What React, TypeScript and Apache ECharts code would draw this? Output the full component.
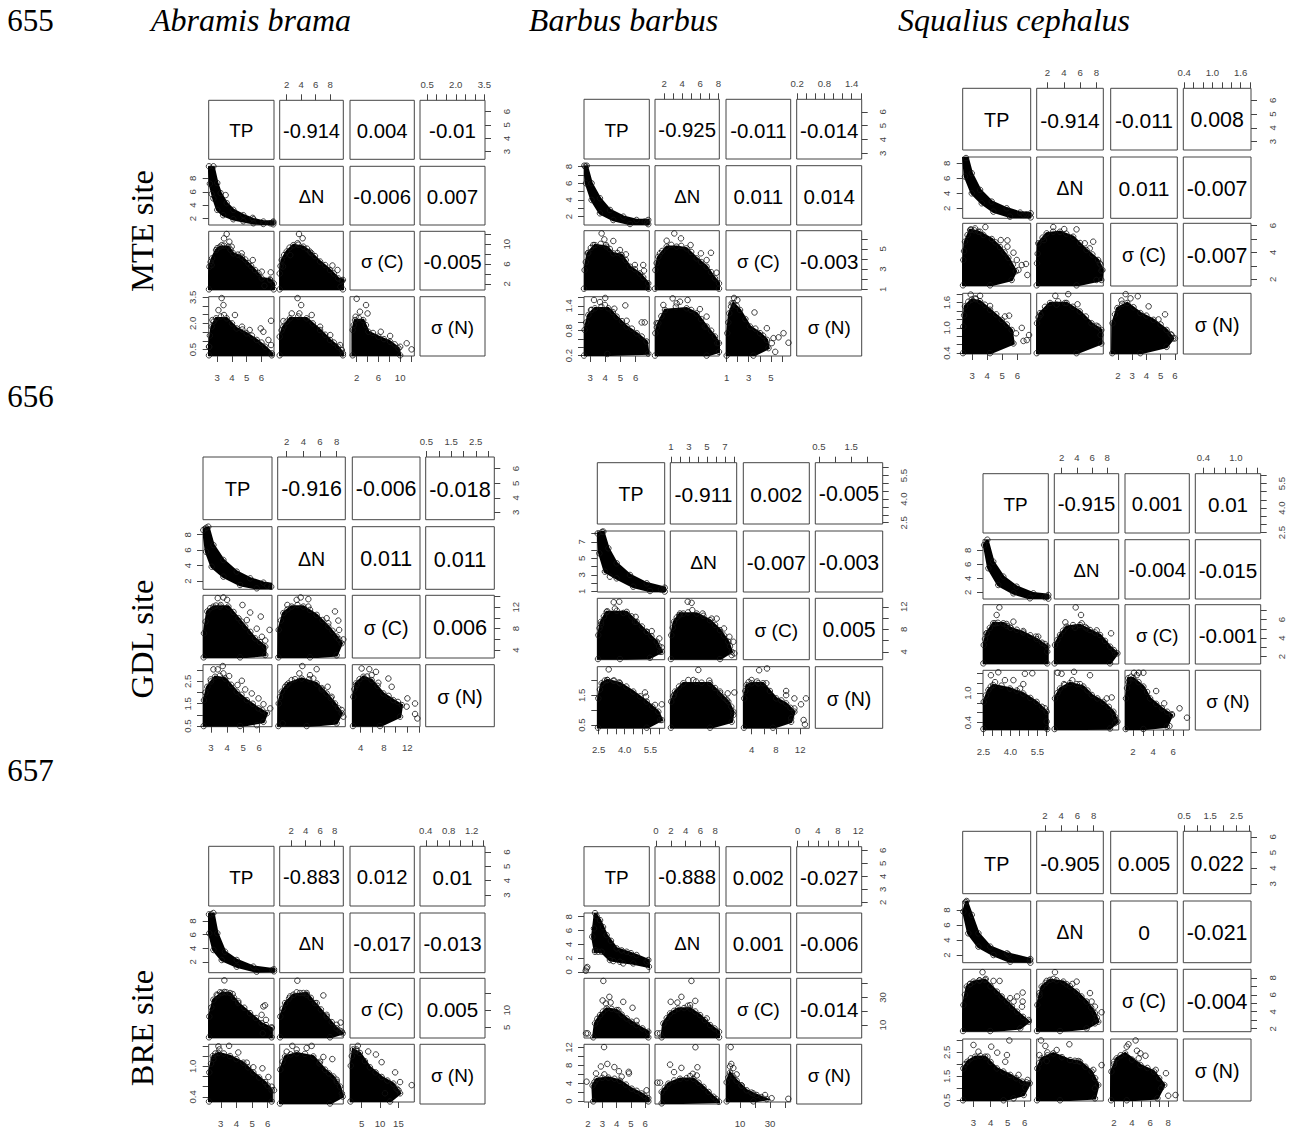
import React, { useEffect, useRef } from "react";
import * as echarts from "echarts";

type P = number[];
const diagLabels = ["TP", "ΔN", "σ (C)", "σ (N)"];
const speciesTitles = ["Abramis brama", "Barbus barbus", "Squalius cephalus"];
const lineNumbers = ["655", "656", "657"];
const siteLabels = ["MTE site", "GDL site", "BRE site"];

// Panel order in blobs, dots and edges: ΔN~TP, σC~TP, σC~ΔN, σN~TP, σN~ΔN, σN~σC
const mteAbramisRanges = [[2.42, 6.85], [1.04, 9.8], [0.77, 12.6], [0.13, 3.53]];
const mteAbramisTicks = [[3, 4, 5, 6], [2, 4, 6, 8], [2, 4, 6, 8, 10, 12], [0.5, 1, 1.5, 2, 2.5, 3, 3.5]];
const mteAbramisLabels = [[3, 4, 5, 6], [2, 4, 6, 8], [2, 6, 10], [0.5, 2, 3.5]];
const mteAbramisCorr = ["-0.914", "0.004", "-0.01", "-0.006", "0.007", "-0.005"];
const mteAbramisBlobs: P[][] = [
  [[2.74,9.8],[3,7.3],[3.23,5.8],[3.64,4.3],[4.09,3.3],[4.77,2.5],[5.45,1.9],[6.13,1.55],[6.8,1.55],[6.8,1.15],[6.13,1.2],[5.45,1.3],[4.77,1.6],[4.09,1.9],[3.4,2.5],[3,3.3],[2.74,5],[2.5,7.2],[2.44,9.8]],
  [[2.44,.9],[2.47,5.47],[2.65,7.15],[2.92,8.82],[3.19,9.5],[3.75,9.5],[4.09,8.15],[4.66,7.48],[5.11,6.14],[5.56,4.8],[6.02,3.12],[6.58,2.9],[6.83,2.1],[6.83,.9]],
  [[1.04,.9],[1.04,4.1],[1.32,6.8],[2,8.5],[2.92,9.8],[4.3,9.5],[5.2,8.5],[6.6,6.5],[7.97,4.8],[9.1,3.1],[9.75,2.8],[9.75,.9]],
  [[2.44,.17],[2.44,.66],[2.62,1.81],[2.92,2.29],[3.64,2.29],[4.32,1.71],[5,1.43],[5.68,1.05],[6.25,.66],[6.7,.28],[6.7,.17]],
  [[1.04,.17],[1.04,1.24],[1.54,1.81],[2.46,2.29],[4.75,2.29],[6.6,1.62],[7.97,1.05],[9.1,.66],[9.75,.28],[9.75,.17]],
  [[1.26,.17],[1.26,1.62],[1.69,2.19],[3.2,2.19],[4.15,1.52],[6,1.24],[8.15,.95],[9.7,.57],[10,.17]],
];
const mteAbramisDots: P[][] = [
  [[2.62,5.67],[3.57,5.5],[6.8,1.4],[6.6,1.3],[5.4,2.1]],
  [[3.64,12.05],[3.46,11.17],[3.82,10.5],[3.3,9.8],[3.98,9.5],[2.62,5.8],[4.66,8.15],[5.41,6.8],[6.02,4.46],[6.63,4.33],[6.58,2.78],[6.2,1.6]],
  [[3.7,12.05],[4.2,11.2],[3.5,10.2],[9,4.8],[8.3,5.7],[9.6,2.6],[9.4,1.4],[2.5,7.8],[5.4,8.2],[1.5,5.5]],
  [[3.3,3.45],[3.42,3.05],[3.08,2.76],[3.46,2.48],[4.2,2.48],[2.67,2.19],[6.65,2.15],[5.95,1.71],[6.13,1.52],[4.68,1.81],[6.47,1.05],[6.65,.76],[5.2,1.62],[2.46,.66]],
  [[3.5,3.45],[4,3.05],[3.75,2.57],[1.54,2.13],[5.45,2.48],[6.6,1.81],[8,1.33],[9.35,.76],[9.6,.47],[2.7,2.57]],
  [[2,3.41],[3.72,3.05],[2.6,2.67],[4,2.57],[1.8,2.38],[6.43,1.52],[8.15,1.28],[11.2,.86],[12.1,.51],[10,.66]],
];
const mteAbramisEdges: P[][] = [
  [],
  [[2.55,6.4],[3,9.2],[3.45,9.7],[3.9,8.9],[4.4,7.9],[4.9,6.9],[5.3,5.6],[5.8,4.2]],
  [[1.15,5.6],[1.65,7.8],[2.4,9.3],[3.6,9.9],[4.8,9.1],[5.9,7.6],[7.3,5.8],[8.5,4.1]],
  [[2.5,1.3],[2.75,2.1],[3.25,2.4],[4,2],[4.7,1.65],[5.35,1.3],[6,.9]],
  [[1.3,1.6],[2,2.1],[3.6,2.4],[5.6,2],[7.3,1.35],[8.5,.9]],
  [[1.45,1.9],[2.4,2.3],[3.7,1.9],[5,1.45],[7,1.1],[9,.8]],
];

const mteBarbusRanges = [[2.6, 6.9], [1, 8.1], [0.94, 6.8], [0.19, 1.62]];
const mteBarbusTicks = [[3, 4, 5, 6], [2, 3, 4, 5, 6, 7, 8], [1, 2, 3, 4, 5, 6], [0.2, 0.4, 0.6, 0.8, 1, 1.2, 1.4, 1.6]];
const mteBarbusLabels = [[3, 4, 5, 6], [2, 4, 6, 8], [1, 3, 5], [0.2, 0.8, 1.4]];
const mteBarbusCorr = ["-0.925", "-0.011", "-0.014", "0.011", "0.014", "-0.003"];
const mteBarbusBlobs: P[][] = [
  [[2.78,8.1],[3.1,6],[3.65,4.2],[4.31,2.8],[5.19,2],[6.06,1.6],[6.83,1.6],[6.83,1.1],[5.63,1.12],[4.53,1.6],[3.65,2.4],[3.1,4],[2.73,6],[2.62,8.1]],
  [[2.6,1.07],[2.64,2.91],[2.84,4.56],[3.32,5.38],[4.09,5.22],[4.53,4.56],[5.08,4.4],[5.63,3.24],[6.28,2.58],[6.83,1.6],[6.85,1.07]],
  [[1,1.07],[1.04,2.91],[1.37,4.22],[2.29,5.22],[3.39,5.22],[4.49,5.05],[5.6,4.07],[6.7,3.24],[7.62,2.09],[8.06,1.6],[8.06,1.07]],
  [[2.6,.2],[2.64,.82],[2.89,1.18],[3.32,1.34],[4.2,1.34],[4.75,1.14],[5.41,.9],[6.07,.74],[6.72,.54],[6.83,.25]],
  [[1,.2],[1.04,.74],[1.37,.98],[2.1,1.3],[4.49,1.34],[5.6,1.22],[6.7,.9],[7.62,.66],[8.06,.5],[8.06,.29],[6.7,.2]],
  [[1,.2],[1.06,.74],[1.24,1.22],[1.6,1.46],[2.21,1.3],[3.12,.9],[4.03,.74],[4.64,.58],[4.79,.38],[3.42,.2]],
];
const mteBarbusDots: P[][] = [
  [[6.75,1.3],[6.6,1.4],[2.7,8]],
  [[3.76,6.53],[3.94,5.94],[4.53,5.78],[4.05,5.38],[3.21,5.38],[2.88,4.62],[4.97,4.89],[5.36,4.46],[6.5,3.41],[6.55,2.85],[5.95,3.41]],
  [[3.13,6.53],[3.87,6.04],[2.29,5.81],[4.93,5.38],[7.18,4.62],[7.8,2.65],[6.07,4.56],[6.7,3.9],[1.55,4.56]],
  [[4,1.59],[3.26,1.54],[3.65,1.49],[3.06,1.3],[5.32,1.41],[3.98,1.42],[4.6,1.33],[5.41,1.04],[6.4,1],[6.6,1],[4.14,.24]],
  [[2.95,1.58],[1.92,1.42],[3.39,1.46],[4.6,1.54],[3.76,1.5],[5.96,1.32],[1.18,.98],[6.7,1.14],[6.5,.9],[7.88,.5]],
  [[1.67,1.59],[1.97,1.54],[1.46,1.46],[3.52,1.24],[4.64,.86],[6.15,.74],[5.7,.64],[6.6,.51],[5.09,.5],[5.4,.29],[5.24,.62]],
];
const mteBarbusEdges: P[][] = [
  [],
  [[2.72,3.7],[3.05,5.1],[3.7,5.5],[4.3,5],[4.8,4.6],[5.35,3.9],[5.95,3],[6.5,2.2]],
  [[1.18,3.6],[1.8,4.8],[2.8,5.4],[3.9,5.3],[5,4.7],[6.1,3.7],[7.2,2.7]],
  [[2.75,1],[3.1,1.3],[3.75,1.38],[4.5,1.25],[5.1,1.03],[5.75,.85],[6.4,.66]],
  [[1.2,.88],[1.7,1.15],[3.3,1.38],[5,1.3],[6.1,1.08],[7.2,.8]],
  [[1.15,1],[1.4,1.38],[1.9,1.4],[2.7,1.08],[3.6,.85],[4.3,.68]],
];

const mteSqualiusRanges = [[2.38, 6.88], [0.68, 8.84], [1.5, 6.17], [0.38, 1.82]];
const mteSqualiusTicks = [[3, 4, 5, 6], [2, 4, 6, 8], [2, 3, 4, 5, 6], [0.4, 0.6, 0.8, 1, 1.2, 1.4, 1.6, 1.8]];
const mteSqualiusLabels = [[3, 4, 5, 6], [2, 4, 6, 8], [2, 3, 4, 5, 6], [0.4, 1, 1.6]];
const mteSqualiusRightSigmaC = [2, 4, 6];
const mteSqualiusCorr = ["-0.914", "-0.011", "0.008", "0.011", "-0.007", "-0.007"];
const mteSqualiusBlobs: P[][] = [
  [[2.69,8.86],[2.98,6.68],[3.53,4.46],[4.3,2.9],[5.29,2.01],[6.18,1.44],[6.88,1.35],[6.88,.8],[5.51,.9],[4.41,1.57],[3.64,2.68],[2.98,4],[2.53,6.24],[2.42,8.86]],
  [[2.4,1.55],[2.42,3.44],[2.53,4.8],[2.87,5.67],[3.42,5.54],[4.3,5],[4.85,4.4],[5.4,3.6],[5.9,2.6],[5.62,1.95],[4.19,1.55]],
  [[.68,1.55],[.72,3.19],[.88,4.68],[1.9,5.42],[3.53,5.54],[5.15,5.17],[6.78,4.18],[8.2,3.44],[8.73,2.69],[8.6,1.95],[5.56,1.55]],
  [[2.4,.4],[2.42,1.03],[2.53,1.51],[2.98,1.67],[3.53,1.63],[4.19,1.43],[4.96,1.19],[5.62,.95],[5.74,.63],[4.19,.4]],
  [[.68,.4],[.72,1.11],[1.09,1.35],[2.31,1.59],[4.34,1.59],[5.96,1.39],[7.39,1.11],[8.6,.95],[8.6,.63],[5.56,.4]],
  [[1.61,.4],[1.63,1.11],[1.97,1.47],[2.66,1.59],[3.58,1.35],[4.5,1.19],[5.42,.95],[5.88,.75],[5.42,.55],[3.58,.4]],
];
const mteSqualiusDots: P[][] = [
  [[6.8,1.1],[6.6,1.2],[6.4,1.15],[2.6,8.7]],
  [[3.88,5.89],[2.93,5.72],[3.2,5.79],[3.53,5.54],[4.9,4.92],[5.34,4.9],[5.34,4.43],[5.74,3.98],[5.96,3.44],[6.57,3.14],[6.29,3.06],[6.66,2.32],[6.07,2.69]],
  [[2.71,5.89],[4.05,5.74],[5.56,5.72],[1.57,4.92],[6.57,4.68],[7.6,4.8],[7.18,4.3],[8.4,3.19],[8.6,2.64],[8,1.95]],
  [[2.91,1.79],[3.53,1.76],[3.22,1.7],[4.19,1.52],[5.18,1.27],[5.45,1.29],[6.29,1],[6.62,.71],[6.77,.83],[6.4,.69],[5.91,.87]],
  [[2.96,1.76],[4.54,1.8],[4.14,1.59],[5.68,1.56],[3.12,1.55],[8.2,1.03],[8.5,.83],[1.17,1.31]],
  [[2.25,1.65],[2.55,1.8],[3.4,1.75],[2.89,1.7],[4.16,1.51],[5.31,1.32],[4.85,1.2],[5.77,.83],[6,.75]],
];
const mteSqualiusEdges: P[][] = [
  [],
  [[2.47,4.1],[2.7,5.3],[3.15,5.65],[3.75,5.3],[4.55,4.75],[5.15,4],[5.7,3.1]],
  [[.8,3.9],[1.4,5.1],[2.7,5.55],[4.3,5.4],[6,4.7],[7.5,3.85],[8.5,3.1]],
  [[2.47,1.3],[2.75,1.62],[3.25,1.68],[3.85,1.55],[4.6,1.32],[5.3,1.08]],
  [[.9,1.25],[1.7,1.5],[3.3,1.63],[5.1,1.5],[6.7,1.27],[8,1.05]],
  [[1.8,1.32],[2.3,1.57],[3.1,1.49],[4,1.29],[5,1.08],[5.7,.85]],
];

const gdlAbramisRanges = [[2.5, 6.8], [0.92, 9.04], [2.55, 14.2], [0.47, 3.25]];
const gdlAbramisTicks = [[3, 4, 5, 6], [2, 4, 6, 8], [4, 6, 8, 10, 12, 14], [0.5, 1, 1.5, 2, 2.5, 3]];
const gdlAbramisLabels = [[3, 4, 5, 6], [2, 4, 6, 8], [4, 8, 12], [0.5, 1.5, 2.5]];
const gdlAbramisCorr = ["-0.916", "-0.006", "-0.018", "0.011", "0.011", "0.006"];
const gdlAbramisBlobs: P[][] = [
  [[2.83,9.04],[3.15,6.66],[3.77,4.72],[4.6,3.21],[5.44,2.34],[6.27,1.78],[6.81,1.61],[6.81,1.05],[5.85,1.05],[4.81,1.48],[3.77,2.56],[3.04,3.85],[2.69,5.79],[2.52,8.6]],
  [[2.54,2.67],[2.56,7.15],[2.77,11.2],[3.15,12.1],[4.08,12.1],[4.71,9.94],[5.13,8.39],[5.75,6.2],[6.38,4.66],[6.38,3.1],[4.81,2.67]],
  [[1,2.67],[1.04,7.77],[1.6,10.9],[2.6,12.1],[4,12.1],[5.6,10.56],[7,8.39],[8,6.53],[8.6,5.28],[8,3.05],[4.8,2.67]],
  [[2.54,.5],[2.56,1.66],[2.77,2.26],[3.25,2.71],[3.88,2.63],[4.6,2.04],[5.23,1.66],[5.96,1.29],[6.48,1.07],[6.27,.69],[4.81,.5]],
  [[1,.5],[1.04,1.51],[1.4,2.04],[2.2,2.41],[3.8,2.63],[5.6,2.41],[6.8,1.96],[7.8,1.51],[8.6,1.07],[8,.62],[4.4,.5]],
  [[2.66,.5],[2.72,1.81],[3.18,2.41],[4.45,2.71],[5.88,2.56],[7.9,1.96],[9.62,1.66],[11.06,1.44],[10.77,.92],[7.32,.5]],
];
const gdlAbramisDots: P[][] = [
  [[6.75,1.25],[6.5,1.4],[2.7,8.9]],
  [[3.42,13.67],[3.77,13.8],[4,13.36],[3.56,12.1],[3.31,12.3],[4.96,12.4],[5.44,11],[6.1,10.25],[5.23,9.6],[5.85,8],[6.65,7.77],[6.17,6.5],[6.38,5.8]],
  [[3.2,13.36],[3.68,13.8],[4.6,13.48],[2.08,12.4],[4.6,12.1],[7.8,11.2],[6.8,9.94],[8.2,9.5],[8.3,7.77],[8.8,6],[7,9]],
  [[3.15,3.04],[3.42,3.04],[3.73,3.19],[3.77,2.86],[4.13,2.74],[4.92,2.53],[4.65,2.34],[5.13,2.14],[5.54,1.96],[5.96,1.74],[6.27,1.48],[6.69,1.29],[2.98,2.59],[5.85,.54]],
  [[3.88,3.19],[5.6,3.05],[3.52,2.86],[4.8,2.78],[5.2,2.63],[2.6,2.56],[6.92,2.26],[6.2,2.14],[7.4,1.81],[8.6,1.22],[8.8,.92],[1.52,.62],[2,2.34]],
  [[4.16,3.08],[5.48,3.05],[6.63,2.93],[5.88,2.78],[3.3,2.34],[7.03,2.44],[8.76,2.63],[9.33,2.26],[12.03,1.74],[13.35,1.51],[13.35,1.04],[13.75,.84],[11.9,1.37]],
];
const gdlAbramisEdges: P[][] = [
  [],
  [[2.66,9.3],[2.95,11.8],[3.6,12.4],[4.4,11.1],[4.9,9.3],[5.45,7.4],[6.05,5.5]],
  [[1.3,9.5],[2.1,11.6],[3.3,12.4],[4.8,11.5],[6.3,9.6],[7.5,7.6],[8.3,6]],
  [[2.65,2],[3,2.5],[3.55,2.75],[4.25,2.35],[4.9,1.9],[5.6,1.5],[6.2,1.2]],
  [[1.2,1.8],[1.8,2.25],[3,2.6],[4.7,2.6],[6.2,2.2],[7.3,1.75],[8.2,1.3]],
  [[2.9,2.15],[3.8,2.6],[5.1,2.72],[6.9,2.3],[8.8,1.85],[10.4,1.58]],
];

const gdlBarbusRanges = [[2.42, 6.32], [0.93, 8.3], [2.62, 13.5], [0.39, 2.47]];
const gdlBarbusTicks = [[2.5, 3, 3.5, 4, 4.5, 5, 5.5, 6], [1, 2, 3, 4, 5, 6, 7, 8], [4, 6, 8, 10, 12], [0.5, 1, 1.5, 2]];
const gdlBarbusLabels = [[2.5, 4, 5.5], [1, 3, 5, 7], [4, 8, 12], [0.5, 1.5]];
const gdlBarbusCorr = ["-0.911", "0.002", "-0.005", "-0.007", "-0.003", "0.005"];
const gdlBarbusBlobs: P[][] = [
  [[2.77,8.23],[3.06,6.21],[3.54,4.4],[4.31,2.99],[5.28,1.98],[6.32,1.45],[6.32,.98],[5.47,1.05],[4.5,1.57],[3.54,2.58],[2.86,3.39],[2.54,5.6],[2.44,8]],
  [[2.46,2.74],[2.48,6.97],[2.63,9.33],[2.96,11.09],[4.12,11.09],[4.7,9.33],[5.28,7.56],[5.86,5.8],[6.15,4.03],[5.47,2.97],[3.73,2.74]],
  [[1,2.74],[1.04,6.97],[1.34,9.33],[2,10.8],[3.86,10.8],[5.34,9.62],[6.45,7.85],[7.37,5.8],[7.74,4.03],[6.45,2.74]],
  [[2.46,.41],[2.48,1.4],[2.67,1.91],[3,2.02],[3.73,1.91],[4.5,1.63],[5.28,1.29],[5.95,.95],[6.15,.67],[5.28,.41]],
  [[1,.41],[1.04,1.29],[1.45,1.63],[2.37,1.91],[5.34,1.91],[6.45,1.57],[7.37,1.29],[7.93,.95],[7.74,.61],[5.34,.41]],
  [[2.73,.41],[2.78,1.4],[3.16,1.85],[3.98,1.91],[5.88,1.91],[8.05,1.4],[9.68,1.23],[11.04,.95],[10.5,.61],[7.51,.41]],
];
const gdlBarbusDots: P[][] = [
  [[3.15,2.78],[6.25,1.2],[6.1,1.25],[2.7,8.2]],
  [[3.37,12.8],[3.69,12.9],[3.44,11.68],[3,11.2],[3.93,10.9],[4.64,10.2],[4.6,9.33],[5.28,7.56],[5.57,7.68],[6.01,6.38],[6.15,4.8],[6.05,4.03],[2.63,8.86]],
  [[2.86,12.9],[3.3,12.7],[3.37,11.4],[2.37,10.8],[4.52,10.8],[5.52,9.9],[6.08,9.9],[6.89,8.15],[7.49,6.68],[7.93,5.8],[8.04,3.74],[7.74,3.44],[1.93,10.5]],
  [[3.08,2.38],[3,2.02],[3.4,2],[3.69,1.94],[5.18,1.6],[5.24,1.46],[6.15,1.2],[5.76,1.18],[6.05,.67]],
  [[4.04,2.36],[2.93,2.02],[3.49,2.02],[4.41,1.93],[5.26,2],[1.34,1.51],[6.45,1.63],[7.3,1.57],[8.04,1.6],[7.19,1.35],[7.93,.84]],
  [[6.53,2.41],[5.23,2.35],[3.98,2.02],[5.07,1.91],[6.42,1.91],[9.68,1.65],[9.68,1.51],[11.04,1.4],[12.95,1.4],[12.13,1.2],[11.04,1.06],[12.56,.67],[12.78,.52],[10.5,.73]],
];
const gdlBarbusEdges: P[][] = [
  [],
  [[2.55,8.2],[2.8,10.3],[3.55,11.3],[4.4,10.3],[5,8.5],[5.55,6.8],[6,5]],
  [[1.2,8.3],[1.65,10.1],[2.9,11],[4.6,10.4],[5.9,8.8],[6.9,6.9],[7.55,5]],
  [[2.57,1.7],[2.85,2],[3.35,2],[4.1,1.8],[4.9,1.47],[5.6,1.12]],
  [[1.25,1.47],[1.9,1.8],[3.8,1.97],[5.9,1.75],[6.9,1.43],[7.7,1.12]],
  [[2.95,1.65],[3.5,1.95],[4.9,1.97],[7,1.65],[8.9,1.33],[10.4,1.08]],
];

const gdlSqualiusRanges = [[2.47, 6.1], [1.04, 9.5], [1.2, 7.6], [0.25, 1.46]];
const gdlSqualiusTicks = [[2.5, 3, 3.5, 4, 4.5, 5, 5.5, 6], [2, 4, 6, 8], [2, 3, 4, 5, 6, 7], [0.4, 0.6, 0.8, 1, 1.2, 1.4]];
const gdlSqualiusLabels = [[2.5, 4, 5.5], [2, 4, 6, 8], [2, 4, 6], [0.4, 1]];
const gdlSqualiusCorr = ["-0.915", "0.001", "0.01", "-0.004", "-0.015", "-0.001"];
const gdlSqualiusBlobs: P[][] = [
  [[2.71,9.5],[3.04,6.37],[3.6,4.23],[4.34,2.8],[5.27,1.85],[6.1,1.61],[6.1,1.1],[5.08,1.14],[4.16,1.85],[3.32,3.04],[2.77,5.42],[2.53,8.75]],
  [[2.49,1.27],[2.51,3.25],[2.67,4.51],[3.04,5.59],[3.6,5.59],[4,5.1],[4.71,4.6],[5.45,3.9],[6.04,3.1],[6.04,1.27]],
  [[1.08,1.27],[1.13,3.25],[1.79,4.33],[2.66,5.23],[4.42,5.41],[5.73,4.87],[7.05,4.33],[8.36,3.07],[9.33,2.35],[8.36,1.27]],
  [[2.49,.27],[2.51,.82],[2.77,1.06],[3.04,1.16],[3.97,1.09],[4.71,.99],[5.45,.82],[6.01,.62],[6.04,.27]],
  [[1.08,.27],[1.13,.89],[1.79,1.09],[3.1,1.2],[4.86,1.13],[5.96,.96],[7.49,.82],[8.8,.62],[9.33,.42],[8.36,.28]],
  [[1.27,.27],[1.3,.89],[1.53,1.3],[2.03,1.3],[3.03,1.13],[3.7,.89],[4.87,.69],[5.87,.55],[5.37,.32],[3.03,.27]],
];
const gdlSqualiusDots: P[][] = [
  [[6.05,1.35],[5.9,1.3]],
  [[3.38,7.31],[3.23,6.49],[3.14,5.59],[3.78,5.52],[4.16,5.77],[4,5.12],[2.67,4.51],[4.71,4.76],[5.41,4.15],[5.54,4.15],[5.91,3.36],[6.04,2.53]],
  [[3.85,7.31],[4.55,6.49],[2.49,5.7],[3.76,5.12],[4.64,5.59],[5.29,5.05],[8.5,4.51],[6.61,4.83],[9.02,2.35]],
  [[2.91,1.36],[3.32,1.42],[4.8,1.39],[5.21,1.4],[3.69,1.26],[4.16,1.26],[3.14,1.22],[4.71,1.18],[4.53,1.09],[5.91,.69],[6.01,.42]],
  [[1.48,1.41],[2,1.39],[3.63,1.43],[5.73,1.36],[3.41,1.26],[2.31,1.18],[4.42,1.18],[8.58,.91],[7.93,.89],[9.02,.52],[9.02,.39]],
  [[2.1,1.41],[2.57,1.41],[3.03,1.41],[1.53,1.22],[2.37,1.36],[4.3,1.04],[5.1,.79],[6.63,.69],[7.37,.5],[5.63,.33],[5.87,.57]],
];
const gdlSqualiusEdges: P[][] = [
  [],
  [[2.58,3.9],[2.85,5.1],[3.3,5.65],[3.8,5.3],[4.35,4.9],[5.1,4.3],[5.75,3.5]],
  [[1.45,3.8],[2.2,4.8],[3.5,5.4],[5.1,5.2],[6.4,4.6],[7.7,3.7],[8.85,2.7]],
  [[2.63,.95],[2.9,1.13],[3.5,1.15],[4.35,1.05],[5.1,.9],[5.75,.72]],
  [[1.45,1],[2.4,1.16],[4,1.18],[5.4,1.05],[6.7,.89],[8.2,.72]],
  [[1.4,1.1],[1.8,1.33],[2.55,1.22],[3.4,1.02],[4.3,.78],[5.4,.62]],
];

const breAbramisRanges = [[2.23, 6.4], [0.4, 9.2], [1.86, 19.3], [0.3, 1.43]];
const breAbramisTicks = [[3, 4, 5, 6], [2, 4, 6, 8], [5, 10, 15], [0.4, 0.6, 0.8, 1, 1.2, 1.4]];
const breAbramisLabels = [[3, 4, 5, 6], [2, 4, 6, 8], [5, 10, 15], [0.4, 0.8, 1.2]];
const breAbramisRightSigmaC = [5, 10];
const breAbramisLeftSigmaN = [0.4, 1];
const breAbramisCorr = ["-0.883", "0.012", "0.01", "-0.017", "-0.013", "0.005"];
const breAbramisBlobs: P[][] = [
  [[2.53,9.2],[2.78,6.21],[3.27,3.5],[4.02,2.27],[5.08,1.29],[6.4,.89],[6.4,.6],[5.29,.55],[4.02,1.29],[3.06,2.27],[2.53,3.75],[2.27,6.21],[2.25,9]],
  [[2.25,2.06],[2.27,8.13],[2.53,13.04],[3.06,15],[3.59,15],[4.12,12.06],[4.87,9.11],[5.61,6.17],[6.25,4.7],[6.25,2.06]],
  [[.45,2.06],[.49,8.13],[1.14,12.06],[2.29,14.5],[4.13,15],[5.28,12.06],[6.9,8.13],[8.28,4.7],[9.11,3.23],[7.36,2.06]],
  [[2.25,.31],[2.27,.88],[2.49,1.2],[2.85,1.26],[3.59,1.2],[4.44,1.07],[5.08,.88],[5.83,.69],[6.25,.53],[6.25,.31]],
  [[.45,.31],[.49,.95],[1.14,1.2],[2.75,1.26],[5.05,1.2],[6.67,.95],[7.82,.82],[8.74,.63],[9.11,.44],[7.36,.31]],
  [[1.98,.31],[2.07,1.01],[2.71,1.33],[4.53,1.26],[7.25,.98],[10.44,.79],[13.62,.66],[15.44,.47],[12.71,.31]],
];
const breAbramisDots: P[][] = [
  [[2.4,9],[6.3,.8]],
  [[3.23,18.7],[2.74,14.5],[2.95,15.2],[3.23,15.3],[3.76,14.7],[4.12,12.55],[5.72,11.08],[5.83,11.4],[5.61,8.62],[5.89,7.15],[6.25,5],[5.68,3.23]],
  [[2.84,18.6],[2.75,15.2],[3.67,15],[4.13,14.5],[6.44,14.3],[1.83,14],[5.52,12.06],[6.9,8.62],[8.83,6.37],[9,3.72],[8.28,5.7]],
  [[2.85,1.39],[2.91,1.33],[3.53,1.4],[4.12,1.27],[2.53,1.14],[4.66,1.07],[5.08,.98],[5.66,.96],[6.04,.79],[6.25,.6],[6.4,.53]],
  [[2.15,1.4],[4.13,1.36],[4.82,1.4],[1.37,1.29],[6.44,1.19],[7.68,1.15],[2.75,1.33],[5.98,1.1],[8.28,.76],[9,.5]],
  [[3.98,1.4],[3.62,1.33],[6.8,1.29],[8.89,1.23],[10.44,1.08],[14.1,.88],[18.6,.63],[15,.53],[11.35,.47],[15.44,.69]],
];
const breAbramisEdges: P[][] = [
  [],
  [[2.4,10.8],[2.8,14.3],[3.35,15.2],[3.85,13.6],[4.5,10.7],[5.25,7.7],[5.9,5.6]],
  [[.8,10.4],[1.7,13.4],[3.2,15],[4.7,13.6],[6.1,10.2],[7.6,6.5],[8.7,4]],
  [[2.38,1.05],[2.65,1.25],[3.2,1.25],[4,1.14],[4.75,.98],[5.45,.78],[6,.62]],
  [[.8,1.1],[1.9,1.24],[3.9,1.25],[5.9,1.07],[7.2,.88],[8.3,.72]],
  [[2.35,1.2],[3.6,1.3],[5.9,1.1],[8.8,.88],[12,.72],[14.5,.56]],
];

const breBarbusRanges = [[1.72, 6.28], [-0.13, 8.54], [0.67, 43.8], [-0.2, 12.7]];
const breBarbusTicks = [[2, 3, 4, 5, 6], [0, 2, 4, 6, 8], [10, 20, 30, 40], [0, 2, 4, 6, 8, 10, 12]];
const breBarbusLabels = [[2, 3, 4, 5, 6], [0, 2, 4, 6, 8], [10, 30], [0, 4, 8, 12]];
const breBarbusCorr = ["-0.888", "0.002", "-0.027", "0.001", "-0.006", "-0.014"];
const breBarbusBlobs: P[][] = [
  [[2.49,8.52],[2.84,7.5],[3.3,5.33],[4,3.4],[4.7,2.91],[5.39,2.43],[6.21,1.71],[6.25,.74],[5.16,1.22],[4.23,1.46],[3.53,1.71],[2.95,2.91],[2.49,2.91],[2.3,5.09]],
  [[2.37,1.15],[2.49,11.2],[2.84,17.2],[3.3,22],[4,20.8],[4.7,14.8],[5.39,10],[6.21,5.2],[6.21,1.15]],
  [[.77,1.15],[1,11.2],[1.9,18.4],[3,22],[4.6,22],[5.95,17.2],[7.3,10],[8.5,5.2],[8.5,1.15]],
  [[2.37,-.06],[2.32,3.49],[2.6,4.9],[3.42,5.26],[4.23,4.55],[5.05,2.78],[5.74,1.71],[6.21,.65],[6.21,-.06]],
  [[.77,-.06],[.77,2.42],[1.67,4.2],[3.25,5.26],[5.05,5.26],[6.4,3.49],[7.75,1.36],[8.5,.3]],
  [[1.1,-.06],[1.1,4.2],[3.34,6.32],[7.78,4.55],[14.45,2.42],[21.1,1.36],[27.8,.44],[18.9,-.06]],
];
const breBarbusDots: P[][] = [
  [[1.9,.5],[1.95,.69],[1.84,.16],[2.42,6.3],[2.49,3.15],[2.72,2.91],[3.77,1.56],[4.46,1.22],[6.09,1.46]],
  [[3.07,41.9],[3.49,30.4],[3.02,27.8],[3.25,25.6],[4.46,26.8],[5.11,22.5],[3.58,26.3],[5.39,13.1],[1.86,4],[1.98,4],[4.12,20.8]],
  [[4.78,41.9],[3.43,30.4],[1.99,26.8],[2.89,26.3],[5.3,27.5],[4.6,24.4],[4.28,23.9],[.19,4],[.55,4],[6.85,14.8]],
  [[3.12,12.07],[3.35,8.31],[2.9,7.74],[3.84,7.6],[4.16,6.68],[4.84,6.54],[4.86,6.18],[4.35,5.47],[2.56,6.18],[1.9,4.34],[3.14,5.97],[6.09,2.42]],
  [[5.32,12.07],[1.9,8.31],[5.59,7.74],[3.43,7.6],[2.44,6.68],[4.6,5.83],[4.96,6.32],[.19,4.41],[.55,4.41],[5.5,5.97]],
  [[3.78,12.07],[4.2,8.31],[5.56,7.39],[3.34,7.74],[7.78,5.97],[11.1,3.49],[18.9,1.71],[26.7,1.36],[31.1,.65],[42.2,.51]],
];
const breBarbusEdges: P[][] = [
  [[2.6,8.1],[3.05,6.5],[3.6,4.5],[4.35,3.1],[5,2.7]],
  [[2.65,14.5],[3.05,19.8],[3.65,21.7],[4.35,17.6],[5.05,12.4],[5.8,7.6]],
  [[1.45,15],[2.45,20.3],[3.8,22.3],[5.3,19.8],[6.6,13.6],[7.9,7.6]],
  [[2.45,4.2],[3,5.2],[3.85,5],[4.65,3.7],[5.4,2.3],[5.95,1.2]],
  [[1.2,3.3],[2.45,4.9],[4.15,5.4],[5.75,4.4],[7.1,2.4],[8.1,.9]],
  [[2.2,5.3],[5.5,5.5],[11,3.5],[17.7,1.9],[24.4,.9]],
];

const breSqualiusRanges = [[2.37, 6.35], [1, 9.2], [1.65, 9], [0.47, 3.06]];
const breSqualiusTicks = [[3, 4, 5, 6], [2, 4, 6, 8], [2, 3, 4, 5, 6, 7, 8], [0.5, 1, 1.5, 2, 2.5, 3]];
const breSqualiusLabels = [[3, 4, 5, 6], [2, 4, 6, 8], [2, 4, 6, 8], [0.5, 1.5, 2.5]];
const breSqualiusCorr = ["-0.905", "0.005", "0.022", "0", "-0.021", "-0.004"];
const breSqualiusBlobs: P[][] = [
  [[2.6,9.2],[2.9,7.36],[3.29,4.9],[3.98,3.13],[4.96,2.24],[6.33,1.49],[6.33,1],[5.15,1.13],[4.17,2.02],[3.29,3.13],[2.7,4.9],[2.41,7.8]],
  [[2.39,1.73],[2.41,4.8],[2.61,6.96],[3,7.55],[3.68,7.75],[4.37,6.37],[4.96,5.2],[5.55,4.01],[6.23,2.83],[5.74,2.04],[3.98,1.73]],
  [[1.04,1.73],[1.08,4.8],[1.61,6.96],[2.64,7.75],[4.28,7.55],[5.92,6.37],[7.15,5.2],[8.17,3.83],[8.58,2.83],[7.15,2.04],[3.87,1.73]],
  [[2.39,.5],[2.41,1.83],[2.64,2.11],[3.1,2.32],[3.68,2.32],[4.37,1.83],[5.15,1.56],[5.84,1.28],[6.29,1.21],[5.94,.72],[4.76,.5]],
  [[1.04,.5],[1.08,1.83],[1.61,2.25],[3.05,2.46],[5.1,2.18],[6.33,2.11],[7.76,1.7],[8.58,1.14],[8.17,.58],[3.87,.5]],
  [[1.7,.5],[1.73,1.7],[2.3,2.25],[3.24,2.46],[4.93,1.97],[6.43,1.7],[7.56,1.14],[6.81,.58],[3.42,.5]],
];
const breSqualiusDots: P[][] = [
  [[2.55,9.05],[5.05,2.1],[6.3,1.3]],
  [[3.53,8.66],[2.8,7.24],[3.35,7.68],[3.72,7.87],[4.17,7.63],[4.53,7.63],[5.15,5.6],[5.55,5.8],[5.88,6.26],[5.88,5.2],[5.84,4.6],[6.23,3.03],[5.35,5.2]],
  [[3.25,8.66],[2.23,7.63],[3.05,7.87],[4.69,7.24],[5.39,7.27],[5.92,7.55],[7.56,6.2],[7.76,5.2],[8.99,3.94],[8.17,4.6],[8.17,2.63],[1.33,6.2]],
  [[3,2.81],[4.04,2.74],[4.39,2.49],[5.1,3],[4.96,2.39],[4.86,2.11],[3.29,2.53],[5.64,1.56],[6.17,1.35],[6.04,1.03],[5.35,.58],[3.82,2.32]],
  [[1.53,3],[2.07,2.77],[1.33,2.39],[2.31,2.5],[5.02,2.84],[3.46,2.6],[8.99,1.97],[7.97,1.77],[6.12,2.14],[8.17,1],[2.23,2.14]],
  [[3.61,2.84],[3.42,2.74],[4.4,3],[4.55,2.57],[4.93,2.46],[4.74,2.25],[5.49,2.36],[2,2.11],[7.75,1.63],[8.8,.72],[8,.69],[6.62,1.77]],
];
const breSqualiusEdges: P[][] = [
  [],
  [[2.5,6],[2.8,7.3],[3.35,7.7],[4,7],[4.65,5.8],[5.25,4.6],[5.9,3.4]],
  [[1.35,5.9],[2.1,7.4],[3.45,7.7],[5.1,7],[6.5,5.8],[7.7,4.5],[8.4,3.3]],
  [[2.5,2],[2.85,2.25],[3.4,2.35],[4,2.1],[4.75,1.7],[5.5,1.42],[6.1,1.25]],
  [[1.3,2.05],[2.3,2.38],[4.1,2.3],[5.7,2.15],[7,1.9],[8.2,1.42]],
  [[2,2],[2.75,2.38],[4,2.2],[5.7,1.85],[7,1.42],[7.2,1]],
];

// Panel edges in page pixels: [left, right] per column, [top, bottom] per row.
const colsA = [[208.7, 274], [279.7, 343.3], [350, 414.3], [420, 485]];
const colsB = [[584, 649.3], [655, 719.3], [726, 790.7], [796.7, 861.7]];
const colsC = [[962.7, 1030.7], [1036.7, 1103.3], [1110.7, 1177.3], [1183.3, 1251]];

const plots = [
  { r: mteAbramisRanges, t: mteAbramisTicks, l: mteAbramisLabels, c: mteAbramisCorr, b: mteAbramisBlobs, d: mteAbramisDots, e: mteAbramisEdges, cols: colsA, rows: [[100.3, 159.3], [166.3, 225], [231.3, 290], [296.7, 356]] },
  { r: mteBarbusRanges, t: mteBarbusTicks, l: mteBarbusLabels, c: mteBarbusCorr, b: mteBarbusBlobs, d: mteBarbusDots, e: mteBarbusEdges, cols: colsB, rows: [[99.3, 159], [165.7, 225], [230.7, 290], [296.7, 356]] },
  { r: mteSqualiusRanges, t: mteSqualiusTicks, l: mteSqualiusLabels, c: mteSqualiusCorr, b: mteSqualiusBlobs, d: mteSqualiusDots, e: mteSqualiusEdges, cols: colsC, rows: [[88.3, 150], [157, 218.3], [223.3, 286], [293.3, 354]], rightC: mteSqualiusRightSigmaC },
  { r: gdlAbramisRanges, t: gdlAbramisTicks, l: gdlAbramisLabels, c: gdlAbramisCorr, b: gdlAbramisBlobs, d: gdlAbramisDots, e: gdlAbramisEdges, cols: [[203, 272], [277.7, 345.3], [352.3, 420], [425.7, 494.3]], rows: [[457, 519.7], [526.7, 589.3], [595.3, 658], [664.7, 726.7]] },
  { r: gdlBarbusRanges, t: gdlBarbusTicks, l: gdlBarbusLabels, c: gdlBarbusCorr, b: gdlBarbusBlobs, d: gdlBarbusDots, e: gdlBarbusEdges, cols: [[597.3, 664.7], [670.3, 736.7], [743.3, 809.3], [815.3, 882.7]], rows: [[462.7, 524], [531, 592], [598.3, 659.7], [666.7, 728.3]] },
  { r: gdlSqualiusRanges, t: gdlSqualiusTicks, l: gdlSqualiusLabels, c: gdlSqualiusCorr, b: gdlSqualiusBlobs, d: gdlSqualiusDots, e: gdlSqualiusEdges, cols: [[983, 1048.3], [1054.3, 1118.7], [1125, 1189.3], [1195.3, 1260.7]], rows: [[473.7, 533], [539.7, 599], [604.7, 664], [670.3, 730]] },
  { r: breAbramisRanges, t: breAbramisTicks, l: breAbramisLabels, c: breAbramisCorr, b: breAbramisBlobs, d: breAbramisDots, e: breAbramisEdges, cols: colsA, rows: [[846.3, 906], [913, 972.7], [978.3, 1038], [1044.3, 1104]], rightC: breAbramisRightSigmaC, leftN: breAbramisLeftSigmaN },
  { r: breBarbusRanges, t: breBarbusTicks, l: breBarbusLabels, c: breBarbusCorr, b: breBarbusBlobs, d: breBarbusDots, e: breBarbusEdges, cols: colsB, rows: [[846.7, 906], [913, 972.7], [978.3, 1038], [1044.3, 1104]] },
  { r: breSqualiusRanges, t: breSqualiusTicks, l: breSqualiusLabels, c: breSqualiusCorr, b: breSqualiusBlobs, d: breSqualiusDots, e: breSqualiusEdges, cols: colsC, rows: [[831.3, 893.7], [901, 962.7], [969.3, 1031.7], [1039, 1101]] },
];

const INK = "#444";
const labelMargins: any = { top: 11, left: 11, bottom: 16, right: 16 };
const axisBase = (idx: number, p: any, v: number, pos: string | null, labels: number[] | null, isY: boolean) => {
  const dec = labels && labels.some((n) => n % 1 !== 0) ? 1 : 0;
  return {
    type: "value",
    gridIndex: idx,
    min: p.r[v][0],
    max: p.r[v][1],
    show: !!pos,
    position: pos || undefined,
    splitLine: { show: false },
    axisLine: { show: false, onZero: false },
    axisTick: { show: !!pos, length: 6, inside: false, lineStyle: { color: INK, width: 1 }, customValues: p.t[v] },
    axisLabel: {
      show: !!pos,
      customValues: labels || [],
      margin: pos ? labelMargins[pos] : 11,
      rotate: isY ? 90 : 0,
      fontSize: 9.6,
      color: INK,
      fontFamily: "Liberation Sans",
      hideOverlap: false,
      formatter: (n: number) => n.toFixed(dec),
    },
  };
};

function buildOption() {
  const grid: any[] = [];
  const xAxis: any[] = [];
  const yAxis: any[] = [];
  const series: any[] = [];
  const graphic: any[] = [];
  const addText = (text: string, x: number, y: number, size: number, family: string, extra: any = {}) =>
    graphic.push({
      type: "text",
      x,
      y,
      silent: true,
      style: { text, fontSize: size, fontFamily: family, fill: "#000", textAlign: "center", textVerticalAlign: "middle", verticalAlign: "middle", ...extra.style },
      rotation: extra.rotation || 0,
    });

  plots.forEach((p: any) => {
    let lowerIdx = 0;
    let upperIdx = 0;
    for (let r = 0; r < 4; r++) {
      for (let c = 0; c < 4; c++) {
        const idx = grid.length;
        const [x0, x1] = p.cols[c];
        const [y0, y1] = p.rows[r];
        grid.push({
          show: true, left: x0, top: y0, width: x1 - x0, height: y1 - y0,
          borderColor: INK, borderWidth: 1, backgroundColor: "transparent",
        });
        const xPos = r === 0 && (c === 1 || c === 3) ? "top" : r === 3 && (c === 0 || c === 2) ? "bottom" : null;
        const yPos = c === 0 && (r === 1 || r === 3) ? "left" : c === 3 && (r === 0 || r === 2) ? "right" : null;
        let yLabels = yPos ? p.l[r] : null;
        if (yPos === "right" && r === 2 && p.rightC) yLabels = p.rightC;
        if (yPos === "left" && r === 3 && p.leftN) yLabels = p.leftN;
        xAxis.push(axisBase(idx, p, c, xPos, xPos ? p.l[c] : null, false));
        yAxis.push(axisBase(idx, p, r, yPos, yLabels, true));
        const w = x1 - x0;
        const cx = (x0 + x1) / 2;
        const cy = (y0 + y1) / 2 + 1;
        if (r === c) {
          addText(diagLabels[r], cx, cy, w * 0.29, "Liberation Sans");
        } else if (r < c) {
          addText(p.c[upperIdx++], cx, cy, w * 0.316, "Liberation Sans");
        } else {
          const blob: P[] = p.b[lowerIdx];
          const dots: P[] = p.d[lowerIdx];
          const edge: P[] = p.e[lowerIdx];
          lowerIdx++;
          series.push({
            type: "custom", xAxisIndex: idx, yAxisIndex: idx, clip: true, silent: true, data: blob,
            renderItem: (params: any, api: any) =>
              params.dataIndex !== 0 ? null : {
                type: "polygon",
                shape: { points: blob.map((q) => api.coord(q)) },
                style: { fill: "#000", stroke: "#000", lineWidth: 2.5 },
              },
          });
          series.push({
            type: "scatter", xAxisIndex: idx, yAxisIndex: idx, clip: true, silent: true,
            data: blob.concat(edge, dots), symbol: "circle", symbolSize: 5.5,
            itemStyle: { color: "rgba(0,0,0,0)", borderColor: "#111", borderWidth: 1 },
          });
        }
      }
    }
  });

  const titleXs = [251, 623.5, 1014];
  speciesTitles.forEach((t, i) => addText(t, titleXs[i], 20, 32, "Liberation Serif", { style: { fontStyle: "italic" } }));
  const numYs = [20, 396, 770];
  lineNumbers.forEach((t, i) => addText(t, 30.5, numYs[i], 31, "Liberation Serif"));
  const siteYs = [231, 639, 1028];
  siteLabels.forEach((t, i) => addText(t, 142, siteYs[i], 32.5, "Liberation Serif", { rotation: Math.PI / 2 }));

  return { animation: false, backgroundColor: "#fff", grid, xAxis, yAxis, series, graphic };
}

export default function App() {
  const ref = useRef<HTMLDivElement>(null);
  useEffect(() => {
    const chart = echarts.init(ref.current!, undefined, { renderer: "svg" });
    chart.setOption(buildOption() as any);
    return () => chart.dispose();
  }, []);
  return <div ref={ref} style={{ position: "absolute", left: 0, top: 0, width: 1289, height: 1128 }} />;
}
